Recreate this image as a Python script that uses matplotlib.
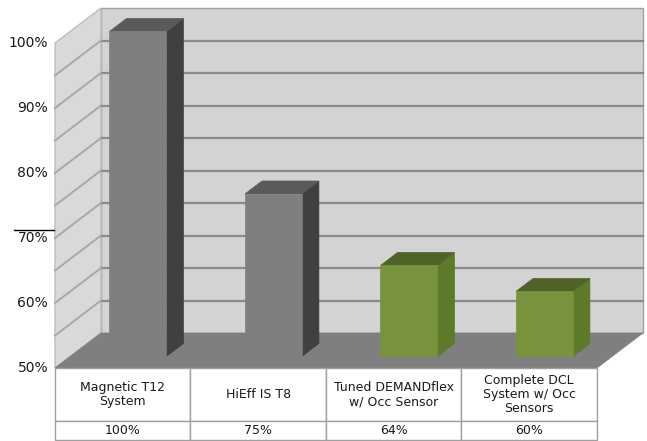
import matplotlib
matplotlib.use("Agg")
import matplotlib.pyplot as plt
from matplotlib.patches import Polygon, Rectangle

# ---- data ----
categories = ["Magnetic T12\nSystem", "HiEff IS T8", "Tuned DEMANDflex\nw/ Occ Sensor",
              "Complete DCL\nSystem w/ Occ\nSensors"]
values = [100, 75, 64, 60]
value_labels = ["100%", "75%", "64%", "60%"]
y_ticks = [50, 60, 70, 80, 90, 100]
grid_levels = [55, 60, 65, 70, 75, 80, 85, 90, 95]
bar_kind = ["grey", "grey", "green", "green"]

# ---- style ----
W, H = 647, 441
PX_PER_CAT = 135.5
PX_PER_PCT = 6.5
LEFT_PX = 55
BASE_PX = 368
DX = 46 / PX_PER_CAT
DV = 35 / PX_PER_PCT
VMIN, VMAX = 50, 100
colors = {
    "grey": ("#7f7f7f", "#404040", "#5a5a5a"),
    "green": ("#77933c", "#5d7a2a", "#4f6228"),
}

fig = plt.figure(figsize=(W / 100, H / 100), dpi=100)
ax = fig.add_axes([0, 0, 1, 1])
ax.set_xlim(-LEFT_PX / PX_PER_CAT, (W - LEFT_PX) / PX_PER_CAT)
ax.set_ylim(VMIN - (H - BASE_PX) / PX_PER_PCT, VMIN + BASE_PX / PX_PER_PCT)
ax.axis("off")

n = len(categories)


def P(x, v, d):
    return (x + d * DX, v + d * DV)


# back wall
ax.add_patch(Polygon([P(0, VMIN, 1), P(n, VMIN, 1), P(n, VMAX, 1), P(0, VMAX, 1)],
                     closed=True, fc="#d3d3d3", ec="#a0a0a0", lw=1, zorder=1))
# side wall
ax.add_patch(Polygon([P(0, VMIN, 0), P(0, VMIN, 1), P(0, VMAX, 1), P(0, VMAX, 0)],
                     closed=True, fc="#d9d9d9", ec="#bdbdbd", lw=1, zorder=1))
# grid lines
for g in grid_levels:
    x0, y0 = P(0, g, 1)
    x1, y1 = P(n, g, 1)
    ax.plot([x0, x1], [y0, y1], color="#8a8a8a", lw=1.6, zorder=2)
    a0, b0 = P(0, g, 0)
    ax.plot([a0, x0], [b0, y0], color="#a8a8a8", lw=1.4, zorder=2)
# floor
ax.add_patch(Polygon([P(0, VMIN, 0), P(n, VMIN, 0), P(n, VMIN, 1), P(0, VMIN, 1)],
                     closed=True, fc="#7f7f7f", ec="#7f7f7f", lw=0.5, zorder=3))

# bars
bw = 0.42
d0, d1 = 0.33, 0.70
for i, (v, k) in enumerate(zip(values, bar_kind)):
    front, side, top = colors[k]
    xl = i + 0.5 - bw / 2
    xr = i + 0.5 + bw / 2
    # right side face
    ax.add_patch(Polygon([P(xr, VMIN, d0), P(xr, VMIN, d1), P(xr, v, d1), P(xr, v, d0)],
                         closed=True, fc=side, ec=side, lw=0.5, zorder=4))
    # top face
    ax.add_patch(Polygon([P(xl, v, d0), P(xr, v, d0), P(xr, v, d1), P(xl, v, d1)],
                         closed=True, fc=top, ec=top, lw=0.5, zorder=4))
    # front face
    ax.add_patch(Polygon([P(xl, VMIN, d0), P(xr, VMIN, d0), P(xr, v, d0), P(xl, v, d0)],
                         closed=True, fc=front, ec=front, lw=0.5, zorder=5))

# y tick labels
for t in y_ticks:
    ax.text(-0.05, t, f"{t}%", ha="right", va="center", fontsize=10,
            family="DejaVu Sans", color="#1a1a1a", zorder=6)
# stray line above 70% label
ax.plot([-(LEFT_PX - 14) / PX_PER_CAT, -0.01], [70 + 8 / PX_PER_PCT] * 2,
        color="black", lw=1, zorder=6)

# table
row1_bot = VMIN - 53 / PX_PER_PCT
row2_bot = VMIN - 72 / PX_PER_PCT
for i in range(n):
    ax.add_patch(Rectangle((i, row1_bot), 1, VMIN - row1_bot, fc="white",
                           ec="#a0a0a0", lw=1, zorder=6))
    ax.add_patch(Rectangle((i, row2_bot), 1, row1_bot - row2_bot, fc="white",
                           ec="#a0a0a0", lw=1, zorder=6))
    ax.text(i + 0.5, (VMIN + row1_bot) / 2, categories[i], ha="center", va="center",
            fontsize=9, family="DejaVu Sans", linespacing=1.1, color="#1a1a1a", zorder=7)
    ax.text(i + 0.5, (row1_bot + row2_bot) / 2, value_labels[i], ha="center",
            va="center", fontsize=9, family="DejaVu Sans", color="#1a1a1a", zorder=7)

fig.savefig("out.png", dpi=100)
